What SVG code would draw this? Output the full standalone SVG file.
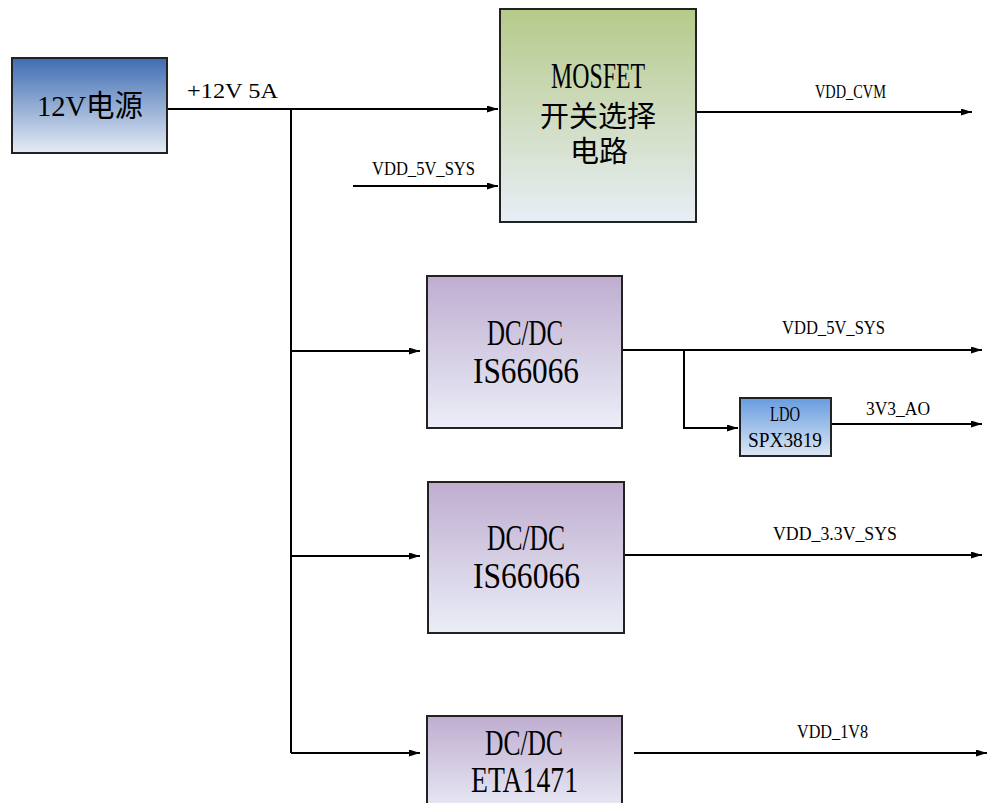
<svg xmlns="http://www.w3.org/2000/svg" width="987" height="803" viewBox="0 0 987 803">
<defs>
<linearGradient id="gBlue" x1="0" y1="0" x2="0" y2="1"><stop offset="0" stop-color="#3e6cb2"/><stop offset="1" stop-color="#e6ecf5"/></linearGradient>
<linearGradient id="gGreen" x1="0" y1="0" x2="0" y2="1"><stop offset="0" stop-color="#b6ca8a"/><stop offset="1" stop-color="#e8eef6"/></linearGradient>
<linearGradient id="gPurple" x1="0" y1="0" x2="0" y2="1"><stop offset="0" stop-color="#bfadd0"/><stop offset="1" stop-color="#eaeef7"/></linearGradient>
<linearGradient id="gLdo" x1="0" y1="0" x2="0" y2="1"><stop offset="0" stop-color="#679ce0"/><stop offset="1" stop-color="#dce7f3"/></linearGradient>
<marker id="arr" viewBox="0 0 11 7" refX="11" refY="3.5" markerWidth="11" markerHeight="7" markerUnits="userSpaceOnUse" orient="auto"><path d="M0,0 L11,3.5 L0,7 z" fill="#000"/></marker>
</defs>
<style>
.box{stroke:#222;stroke-width:2}
.t{font-family:"Liberation Serif","Noto Sans CJK SC",serif;fill:#000}
.big{font-size:36px}
.cn{font-size:29px}
.sm{font-size:19px}
.ln{fill:none;stroke:#000;stroke-width:2}
.ar{marker-end:url(#arr)}
</style>
<rect width="987" height="803" fill="#fff"/>

<g id="connectors">
<path class="ln ar" d="M167,109 H498"/>
<path class="ln" d="M291,109 V753"/>
<path class="ln ar" d="M353,186 H498"/>
<path class="ln ar" d="M696,112 H972"/>
<path class="ln ar" d="M291,351 H420"/>
<path class="ln ar" d="M622,350 H982"/>
<path class="ln ar" d="M684,350 V428 H738"/>
<path class="ln ar" d="M831,424 H982"/>
<path class="ln ar" d="M291,556 H420"/>
<path class="ln ar" d="M624,555 H982"/>
<path class="ln ar" d="M291,753 H420"/>
<path class="ln ar" d="M634,753 H987"/>
<text class="t sm" x="187" y="98" textLength="91" lengthAdjust="spacingAndGlyphs" style="font-size:22px">+12V 5A</text>
<text class="t sm" x="372" y="175" textLength="103" lengthAdjust="spacingAndGlyphs">VDD_5V_SYS</text>
<text class="t sm" x="815" y="98" textLength="71" lengthAdjust="spacingAndGlyphs">VDD_CVM</text>
<text class="t sm" x="782" y="334" textLength="103" lengthAdjust="spacingAndGlyphs">VDD_5V_SYS</text>
<text class="t sm" x="866" y="415" textLength="64" lengthAdjust="spacingAndGlyphs">3V3_AO</text>
<text class="t sm" x="773" y="540" textLength="124" lengthAdjust="spacingAndGlyphs">VDD_3.3V_SYS</text>
<text class="t sm" x="797" y="738" textLength="71" lengthAdjust="spacingAndGlyphs">VDD_1V8</text>
</g>

<g id="psu">
<rect class="box" x="12" y="58" width="155" height="95" fill="url(#gBlue)"/>
<text class="t" x="37" y="116" style="font-size:30px" textLength="106" lengthAdjust="spacingAndGlyphs">12V电源</text>
</g>

<g id="mosfet">
<rect class="box" x="500" y="9" width="196" height="213" fill="url(#gGreen)"/>
<text class="t big" x="551" y="88" textLength="94" lengthAdjust="spacingAndGlyphs">MOSFET</text>
<text class="t cn" x="598" y="127" text-anchor="middle">开关选择</text>
<text class="t cn" x="599" y="162" text-anchor="middle">电路</text>
</g>

<g id="dcdc1">
<rect class="box" x="427" y="276" width="195" height="152" fill="url(#gPurple)"/>
<text class="t big" x="487" y="345" textLength="76" lengthAdjust="spacingAndGlyphs">DC/DC</text>
<text class="t big" x="473" y="383" textLength="106" lengthAdjust="spacingAndGlyphs">IS66066</text>
</g>

<g id="ldo">
<rect class="box" x="740" y="398" width="91" height="58" fill="url(#gLdo)"/>
<text class="t" x="770" y="421" style="font-size:20px" textLength="30" lengthAdjust="spacingAndGlyphs">LDO</text>
<text class="t" x="748" y="447" style="font-size:20px" textLength="74" lengthAdjust="spacingAndGlyphs">SPX3819</text>
</g>

<g id="dcdc2">
<rect class="box" x="428" y="482" width="196" height="151" fill="url(#gPurple)"/>
<text class="t big" x="487" y="550" textLength="78" lengthAdjust="spacingAndGlyphs">DC/DC</text>
<text class="t big" x="473" y="588" textLength="107" lengthAdjust="spacingAndGlyphs">IS66066</text>
</g>

<g id="dcdc3">
<rect class="box" x="427" y="716" width="195" height="100" fill="url(#gPurple)"/>
<text class="t big" x="485" y="755" textLength="78" lengthAdjust="spacingAndGlyphs">DC/DC</text>
<text class="t big" x="471" y="792" textLength="107" lengthAdjust="spacingAndGlyphs">ETA1471</text>
</g>
</svg>
